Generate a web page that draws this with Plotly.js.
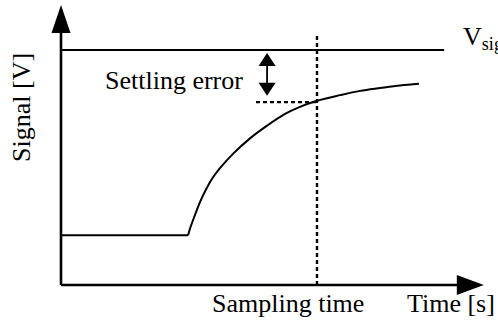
<!DOCTYPE html>
<html>
<head>
<meta charset="utf-8">
<script src="https://cdn.plot.ly/plotly-3.0.1.min.js"></script>
<style>
  html, body { margin: 0; padding: 0; background: #fff; }
  #chart { width: 498px; height: 323px; }
</style>
</head>
<body>
<div id="chart"></div>
<script>
// Step response of a sampled signal: settling toward V_signal.
const stepTime = 2.98;        // time at which the input steps [s]
const vLow = 1.06;            // level before the step [V]
const vSignal = 5.0;          // final signal level [V]
const vSignalEnd = 8.98;      // extent of the V_signal reference line [s]
const samplingTime = 6.0;     // instant at which the signal is sampled [s]
const curveT = [2.98, 3.02, 3.14, 3.26, 3.38, 3.54, 3.73, 4.03, 4.43, 4.83, 5.25, 5.60, 6.00, 6.54, 7.01, 7.48, 7.95, 8.39];
const curveV = [1.06, 1.19, 1.49, 1.77, 2.00, 2.26, 2.49, 2.79, 3.12, 3.39, 3.64, 3.79, 3.92, 4.04, 4.13, 4.19, 4.245, 4.28];
const errorMarkT = 4.83;      // where the settling-error arrow is drawn [s]
const errorGuideStart = 4.57; // start of the dashed guide at the sampled level [s]
const axisEndT = 9.91;        // tip of the time axis
const axisEndV = 5.96;        // tip of the signal axis

const labels = {
  y: 'Signal [V]',
  x: 'Time [s]',
  sampling: 'Sampling time',
  error: 'Settling error',
  level: 'V<sub>signal</sub>'
};

const vSampled = curveV[curveT.indexOf(samplingTime)];

const black = '#000';
const lineW = 2;
const axisW = 2.6;
const dashW = 2.4;

const traces = [
  { // pre-step level
    x: [0, stepTime], y: [vLow, vLow],
    mode: 'lines', line: { color: black, width: lineW }, hoverinfo: 'skip'
  },
  { // settling curve
    x: curveT, y: curveV,
    mode: 'lines', line: { color: black, width: lineW, shape: 'spline', smoothing: 1 }, hoverinfo: 'skip'
  },
  { // final level
    x: [0, vSignalEnd], y: [vSignal, vSignal],
    mode: 'lines', line: { color: black, width: lineW }, hoverinfo: 'skip'
  },
  { // sampling instant
    x: [samplingTime, samplingTime], y: [0, 5.36],
    mode: 'lines', line: { color: black, width: dashW, dash: '4px,3px' }, hoverinfo: 'skip'
  },
  { // sampled level guide
    x: [errorGuideStart, samplingTime], y: [vSampled - 0.03, vSampled - 0.03],
    mode: 'lines', line: { color: black, width: dashW, dash: '4px,3px' }, hoverinfo: 'skip'
  },
  { // settling error shaft
    x: [errorMarkT, errorMarkT], y: [vSignal - 0.25, vSampled + 0.3],
    mode: 'lines', line: { color: black, width: 1.8 }, hoverinfo: 'skip'
  }
];

const head = (xa, ya, path) => ({
  type: 'path', xref: 'x', yref: 'y',
  xsizemode: 'pixel', ysizemode: 'pixel',
  xanchor: xa, yanchor: ya, path: path,
  fillcolor: black, line: { width: 0 }
});

const shapes = [
  { type: 'line', xref: 'x', yref: 'y', x0: 0, y0: 0, x1: 0, y1: axisEndV - 0.4, line: { color: black, width: axisW } },
  { type: 'line', xref: 'x', yref: 'y', x0: 0, y0: 0, x1: axisEndT - 0.4, y1: 0, line: { color: black, width: axisW } },
  head(0, axisEndV, 'M0,0 L-9.5,-28 L9.5,-28 Z'),
  head(axisEndT, 0, 'M0,0 L-27,10 L-27,-10 Z'),
  head(errorMarkT, vSignal, 'M0,-3 L-8.5,-16 L8.5,-16 Z'),
  head(errorMarkT, vSampled, 'M0,5 L-8.5,18 L8.5,18 Z')
];

const font = { family: 'Liberation Serif', size: 26, color: black };

const annotations = [
  { text: labels.error, x: 2.65, y: 4.36, xref: 'x', yref: 'y', showarrow: false, font: font, xanchor: 'center', yanchor: 'middle' },
  { text: labels.sampling, x: 5.32, y: -0.40, xref: 'x', yref: 'y', showarrow: false, font: font, xanchor: 'center', yanchor: 'middle' },
  { text: labels.x, x: 10.22, y: -0.40, xref: 'x', yref: 'y', showarrow: false, font: font, xanchor: 'right', yanchor: 'middle' },
  { text: labels.level, x: 9.37, y: 5.25, xref: 'x', yref: 'y', showarrow: false, font: font, xanchor: 'left', yanchor: 'middle' },
  { text: labels.y, x: -0.91, y: 3.77, xref: 'x', yref: 'y', showarrow: false, font: font, textangle: -90, xanchor: 'center', yanchor: 'middle' }
];

const layout = {
  width: 498, height: 323,
  margin: { l: 0, r: 0, t: 0, b: 0 },
  paper_bgcolor: '#fff', plot_bgcolor: '#fff',
  showlegend: false,
  xaxis: { range: [-1.4297, 10.2421], visible: false, fixedrange: true },
  yaxis: { range: [-0.8085, 6.0638], visible: false, fixedrange: true },
  shapes: shapes,
  annotations: annotations
};

Plotly.newPlot('chart', traces, layout, { staticPlot: true, displayModeBar: false });
</script>
</body>
</html>
